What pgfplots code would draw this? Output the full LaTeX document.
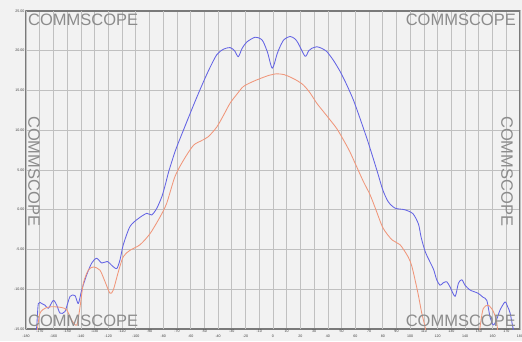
\documentclass[border=0pt]{standalone}
\usepackage{pgfplots}
\pgfplotsset{compat=1.18}
\usepackage{fontspec}
\setmainfont{Liberation Sans}
\definecolor{bgc}{HTML}{F2F2F2}
\definecolor{gridc}{HTML}{C0C0C0}
\definecolor{axc}{HTML}{7A7A7A}
\definecolor{bluec}{HTML}{6464E4}
\definecolor{orc}{HTML}{F0967A}
\definecolor{wm}{HTML}{8C8C8C}
\begin{document}
\begin{tikzpicture}[x=1pt,y=1pt]
\fill[bgc] (0,0) rectangle (522,341);
\path[use as bounding box] (0,0) rectangle (522,341);
\begin{axis}[at={(26pt,12pt)}, anchor=south west, width=494pt, height=318pt, scale only axis,
  xmin=-180, xmax=180, ymin=-15, ymax=25,
  axis background/.style={fill=bgc},
  axis line style={axc, line width=1.2pt},
  grid=major, major grid style={gridc, line width=0.7pt},
  xtick={-170,-150,...,170}, extra x ticks={-180,-160,...,180},
  extra x tick style={grid=major, tick label style={yshift=-4.5pt}},
  ytick={-15,-10,...,25},
  tick style={draw=none},
  yticklabel style={/pgf/number format/fixed, /pgf/number format/fixed zerofill, /pgf/number format/precision=2},
  ticklabel style={font=\fontsize{3.6}{4}\selectfont, text=black!75},
  xticklabel style={inner sep=1pt},
  yticklabel style={inner sep=1.5pt},
  /pgf/number format/assume math mode=true,
  line join=round]
\addplot[bluec, line width=0.85pt, smooth, tension=0.45] coordinates {
(-173.5,-16) (-172.2,-14.7) (-171.0,-11.8) (-168.5,-11.8) (-166.2,-12.0) (-163.7,-12.4) (-160.1,-11.4) (-157.6,-12.0) (-155.2,-13.0) (-151.6,-12.8) (-147.9,-10.9) (-144.3,-10.8) (-141.9,-11.8) (-139.4,-10.1) (-135.8,-8.2) (-132.1,-6.7) (-128.5,-6.1) (-124.8,-6.7) (-120.7,-6.5) (-117.5,-7.0) (-113.9,-7.4) (-111.5,-6.3) (-109.1,-4.4) (-104.2,-2.1) (-98.1,-1.1) (-92.0,-0.45) (-88.4,-0.66) (-84.7,0.18) (-81.1,1.6) (-78.7,3.0) (-76,4.8) (-71,7.5) (-65.3,10.0) (-59,12.7) (-53.2,15.1) (-47,17.5) (-41,19.5) (-36,20.2) (-31.3,20.4) (-28,20.0) (-25.3,19.25) (-22.5,20.3) (-19.1,21.1) (-13.1,21.7) (-9,21.5) (-7,21.1) (-4,19.8) (-0.5,17.8) (3,19.6) (5.1,20.5) (8,21.4) (12.4,21.8) (16,21.5) (18.5,20.9) (23.4,19.3) (26,20.0) (28.2,20.3) (32,20.5) (35.5,20.3) (39.2,19.9) (44,18.8) (48.9,17.4) (53.5,15.8) (58.6,13.8) (64,11.2) (69.5,8.4) (76,4.8) (80,2.5) (84,1.0) (89,0.2) (96,0.0) (102,-0.5) (106,-1.8) (108,-3.5) (111,-5.3) (114.5,-6.6) (117,-7.5) (119.3,-8.8) (121.7,-9.5) (124,-9.2) (126.6,-9.05) (129,-9.7) (132.7,-10.9) (135.1,-9.25) (137.6,-8.8) (140,-9.5) (143.6,-10.1) (149.4,-10.5) (153,-11) (155.8,-11.4) (158.2,-13.5) (160.6,-14.5) (163,-13.8) (165.5,-12.6) (169.1,-11.6) (171,-12.2) (172.8,-13.0) (175.2,-15.1) (177,-16)
};
\addplot[orc, line width=0.85pt, smooth, tension=0.45] coordinates {
(-172,-15.5) (-169.8,-13.0) (-164.9,-12.3) (-160.1,-12.2) (-154,-12.3) (-150.3,-12.6) (-146.7,-13.9) (-143.0,-14.5) (-140.6,-12.2) (-138.2,-9.25) (-134.6,-7.6) (-130.9,-7.2) (-126.1,-7.6) (-122.4,-9.05) (-118.8,-10.5) (-116.4,-10.1) (-112.7,-7.8) (-109.1,-5.9) (-104.2,-5.1) (-96.9,-4.4) (-89.6,-3.0) (-82.3,-0.9) (-77.5,0.8) (-71.4,4.2) (-65,6.3) (-58,8.1) (-52,8.7) (-47.1,9.2) (-41,10.4) (-36,11.9) (-31.3,13.4) (-26,14.6) (-21.6,15.5) (-15,16.1) (-9.4,16.5) (-3,16.9) (2.7,17.1) (8,17.0) (12.4,16.7) (17,16.3) (22.1,15.7) (27,14.7) (31.9,13.4) (36.5,12.4) (41.6,11.3) (46.5,10.2) (51.3,8.8) (56,7.3) (61,5.4) (66,3.5) (70.7,1.9) (75,0) (80.2,-2.3) (86.8,-3.8) (92.6,-4.4) (98.4,-5.9) (101,-7) (103.5,-8.8) (106,-10.8) (108.4,-13) (110.8,-14.7) (112,-16)
};
\addplot[orc, line width=0.85pt, smooth, tension=0.45] coordinates {
(150,-16) (151.5,-14) (153.3,-12.4) (156.9,-12.0) (160.6,-12.8) (163.1,-14.2) (164,-16)
};
\end{axis}
\begin{scope}[every node/.style={text=wm, font=\fontsize{16.5}{16.5}\selectfont, inner sep=0pt}]
\node[anchor=north west] at (28,327) {COMMSCOPE};
\node[anchor=north east] at (516,327) {COMMSCOPE};
\node[anchor=south west] at (28,14) {COMMSCOPE};
\node[anchor=south east] at (516,14) {COMMSCOPE};
\node[anchor=south west, rotate=-90] at (28,225) {COMMSCOPE};
\node[anchor=south west, rotate=-90] at (501,225) {COMMSCOPE};
\end{scope}
\end{tikzpicture}
\end{document}
